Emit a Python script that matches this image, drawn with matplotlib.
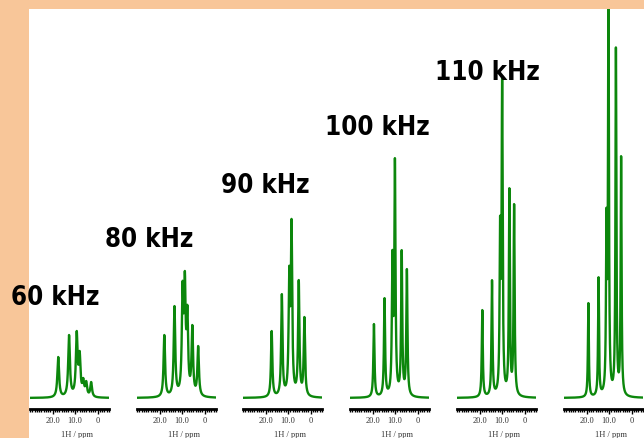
import numpy as np
import matplotlib
matplotlib.use('Agg')
import matplotlib.pyplot as plt
from matplotlib.patches import Rectangle
from matplotlib.ticker import MultipleLocator

# labels above the spectra (the sixth one is cut off in the original)
speed_labels = ['60 kHz', '80 kHz', '90 kHz', '100 kHz', '110 kHz']

# peak positions (ppm) and peak heights
ppm_60 = [17.5, 12.7, 9.3, 8.0, 6.4, 5.1, 2.9]
int_60 = [41, 63, 67, 47, 20, 17, 16]

ppm_80 = [17.9, 13.4, 9.8, 8.8, 7.7, 5.5, 2.9]
int_80 = [63, 92, 117, 127, 93, 73, 52]

ppm_90 = [17.3, 12.8, 9.5, 8.5, 5.3, 2.8]
int_90 = [67, 104, 132, 179, 118, 81]

ppm_100 = [19.4, 14.7, 11.2, 10.1, 7.1, 4.8]
int_100 = [74, 100, 148, 240, 148, 129]

ppm_110 = [18.8, 14.5, 10.9, 10.0, 6.8, 4.7]
int_110 = [88, 118, 182, 322, 210, 194]

ppm_120 = [19.2, 14.7, 11.2, 10.3, 7.0, 4.7]
int_120 = [95, 121, 190, 420, 351, 242]

# line half-widths (ppm) for each panel, lines sharpen with faster spinning
half_widths = [0.45, 0.40, 0.35, 0.30, 0.27, 0.24]

tick_values = [20, 10, 0]
tick_text = ['20.0', '10.0', '0']

peak_sets = [(ppm_60, int_60), (ppm_80, int_80), (ppm_90, int_90),
             (ppm_100, int_100), (ppm_110, int_110), (ppm_120, int_120)]


def make_spectrum(ppm, heights, hw, x):
    """Sum of Lorentzian lines whose summed heights match the read peaks."""
    pos = np.array(ppm, dtype=float)
    h = np.array(heights, dtype=float)
    mat = 1.0 / (1.0 + ((pos[:, None] - pos[None, :]) / hw) ** 2)
    amps = np.clip(np.linalg.solve(mat, h), 0, None)
    return (amps[None, :] / (1.0 + ((x[:, None] - pos[None, :]) / hw) ** 2)).sum(axis=1)


W, H = 644, 439
fig = plt.figure(figsize=(W / 100, H / 100), dpi=100)
fig.patch.set_facecolor('#F8C699')
fig.add_artist(Rectangle((29 / W, 0), 1, (H - 10) / H, transform=fig.transFigure,
                         facecolor='white', edgecolor='none', zorder=0))

panel_left = [30, 137, 243, 350, 457, 564]
x = np.linspace(30, -5, 1400)
serif = ['Liberation Serif', 'DejaVu Serif']

for i, (ppm, heights) in enumerate(peak_sets):
    ax = fig.add_axes([panel_left[i] / W, 29 / H, 79 / W, 400 / H])
    ax.set_facecolor('none')
    y = make_spectrum(ppm, heights, half_widths[i], x)
    ax.plot(x, y, color='#0c870c', lw=1.7, solid_joinstyle='round')
    ax.set_xlim(30, -5)
    ax.set_ylim(-11, 389)

    for side in ['top', 'left', 'right']:
        ax.spines[side].set_visible(False)
    ax.spines['bottom'].set_linewidth(2)
    ax.set_yticks([])
    ax.set_xticks(tick_values)
    ax.set_xticklabels(tick_text, family=serif, fontsize=6, color='#333333')
    ax.xaxis.set_minor_locator(MultipleLocator(1))
    ax.tick_params(axis='x', which='major', length=3.5, width=1, pad=1.5)
    ax.tick_params(axis='x', which='minor', length=2.5, width=1)

    ax.set_xlabel('1H / ppm', family=serif, fontsize=6, color='#333333')
    ax.xaxis.set_label_coords(0.6, -0.052)

# label positions (pixels, baseline)
label_x = [55, 149, 265, 377, 487]
label_y = [305, 247, 193, 135, 80]
for lab, lx, ly in zip(speed_labels, label_x, label_y):
    fig.text(lx / W, 1 - ly / H, lab, ha='center', va='baseline',
             family='DejaVu Sans', fontstretch='condensed', fontweight='bold',
             fontsize=18.5, color='black')

fig.savefig('out.png', dpi=100)
